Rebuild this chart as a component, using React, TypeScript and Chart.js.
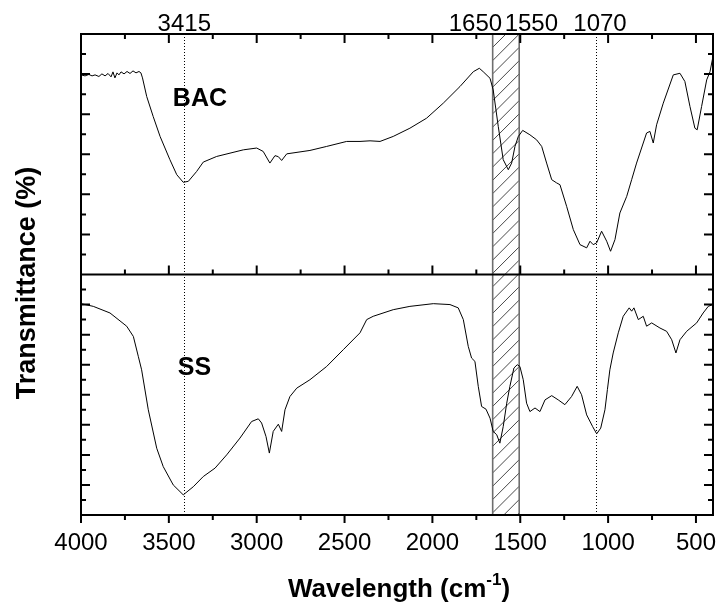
import { useEffect, useRef } from 'react';
import { Chart, registerables } from 'chart.js';

Chart.register(...registerables);

const FONT = '"Liberation Sans", Arial, Helvetica, sans-serif';

// ---------- data ----------
const bacWavenumber = [
  4000, 3977, 3955, 3937, 3920, 3898, 3881, 3863, 3846, 3829, 3818, 3807, 3795, 3784, 3772, 3755, 3738, 3721, 3704, 3687, 3670, 3659, 3650,
  3626, 3589, 3550, 3494, 3455, 3418, 3389, 3342, 3304, 3228, 3076, 3000, 2963, 2925, 2896, 2877, 2858, 2829,
  2697, 2602, 2488, 2412, 2355, 2298, 2223, 2128, 2033, 1938, 1843, 1767, 1733, 1711, 1672, 1654, 1625, 1597, 1568, 1549, 1530, 1511, 1486, 1445, 1407, 1378, 1350, 1321, 1293, 1274,
  1236, 1198, 1160, 1122, 1103, 1085, 1065, 1037, 1008, 986, 961, 933, 894, 866, 838, 781, 762, 743, 724, 686, 629, 591, 563, 534, 506, 493, 468, 439, 420, 405,
];
const bacTransmittance = [
  99.6, 99.1, 99.8, 99.1, 99.6, 98.8, 100.1, 99.1, 100.3, 98.6, 101.1, 98.1, 100.6, 99.6, 101.1, 100.1, 101.3, 100.3, 101.6, 100.6, 101.3, 100.6, 98.1,
  88.8, 78.8, 68.9, 57.3, 49.8, 46.0, 46.5, 51.4, 56.1, 58.9, 62.2, 63.1, 61.4, 55.6, 59.3, 58.8, 56.9, 60.2,
  61.9, 63.9, 66.4, 66.4, 66.7, 66.4, 68.9, 73.0, 78.0, 85.5, 93.8, 101.2, 102.9, 101.2, 97.9, 92.1, 73.8, 57.3, 52.3, 55.6, 63.9, 68.9, 71.9, 69.7, 67.2, 63.9, 55.6, 47.3, 45.7, 44.8,
  34.0, 22.4, 14.9, 13.3, 16.6, 14.9, 15.8, 21.6, 16.6, 11.6, 17.4, 30.7, 39.0, 47.3, 55.6, 70.6, 71.4, 65.6, 74.7, 85.5, 99.6, 100.4, 96.3, 83.8, 73.0, 72.2, 83.8, 97.1, 101.2, 107.9,
];

const ssWavenumber = [
  4000, 3930, 3835, 3740, 3702, 3674, 3655, 3617, 3569, 3532,
  3475, 3418, 3361, 3304, 3237, 3171, 3095, 3029, 2991, 2972,
  2947, 2928, 2906, 2877, 2858, 2839, 2811, 2772, 2697, 2602,
  2507, 2412, 2374, 2337, 2223, 2128, 1995, 1900, 1853, 1824,
  1796, 1777, 1758, 1739, 1720, 1695, 1672, 1654, 1634, 1616,
  1597, 1577, 1559, 1536, 1517, 1502, 1483, 1464, 1445, 1416,
  1388, 1359, 1321, 1284, 1246, 1208, 1176, 1151, 1122, 1088,
  1065, 1042, 1018, 1004, 990, 971, 942, 914, 880, 866,
  853, 828, 800, 781, 752, 705, 667, 638, 614, 591,
  553, 496, 459, 430, 405,
];
const ssTransmittance = [
  70.3, 69.4, 67.2, 62.8, 59.4, 52.8, 48.3, 35.0, 22.2, 16.1,
  10.0, 6.7, 9.4, 12.8, 15.6, 20.0, 25.6, 31.1, 32.0, 30.6,
  26.1, 20.6, 27.8, 30.2, 27.8, 35.0, 39.4, 42.2, 45.0, 49.4,
  55.0, 60.6, 65.0, 66.1, 68.3, 69.4, 70.3, 70.0, 68.9, 65.0,
  56.1, 52.2, 51.1, 42.8, 36.1, 35.2, 32.2, 27.8, 26.7, 23.9,
  29.4, 37.2, 42.8, 48.9, 50.0, 49.4, 45.0, 37.2, 34.4, 35.6,
  34.4, 38.3, 39.7, 38.3, 36.7, 39.4, 42.8, 40.0, 33.3, 29.4,
  27.0, 28.9, 35.0, 41.7, 48.3, 53.9, 60.6, 66.1, 68.9, 67.8,
  68.9, 65.0, 66.1, 62.8, 63.9, 62.2, 61.1, 58.3, 53.9, 58.3,
  61.1, 63.9, 67.2, 69.4, 70.0,
];

const xTickValues = [4000, 3500, 3000, 2500, 2000, 1500, 1000, 500];
const xTickLabels = ['4000', '3500', '3000', '2500', '2000', '1500', '1000', '500'];

const markerLines = [3415, 1070];
const bandRange = [1657, 1506];
const peakLabels = ['3415', '1650', '1550', '1070'];
const peakLabelX = [3412, 1755, 1437, 1046];
const sampleLabels = ['BAC', 'SS'];
const sampleLabelX = [3323, 3354];
const sampleLabelY = [87.6, 49];

// ---------- decorations ----------
const decorPlugin = {
  id: 'decor',
  beforeDatasetsDraw(chart: any) {
    const { ctx, chartArea: a, scales } = chart;
    const xs = scales.x;
    const bx0 = xs.getPixelForValue(bandRange[0]);
    const bx1 = xs.getPixelForValue(bandRange[1]);
    const bw = bx1 - bx0;
    ctx.save();
    ctx.beginPath();
    ctx.rect(bx0, a.top, bw, a.bottom - a.top);
    ctx.clip();
    ctx.strokeStyle = '#333';
    ctx.lineWidth = 0.9;
    for (let y = a.top; y <= a.bottom + bw + 14; y += 13.3) {
      ctx.beginPath();
      ctx.moveTo(bx0, y);
      ctx.lineTo(bx1, y - bw);
      ctx.stroke();
    }
    ctx.restore();

    ctx.save();
    ctx.strokeStyle = '#6e6e6e';
    ctx.lineWidth = 1.6;
    [bx0, bx1].forEach((px) => {
      ctx.beginPath();
      ctx.moveTo(px, a.top);
      ctx.lineTo(px, a.bottom);
      ctx.stroke();
    });
    ctx.strokeStyle = '#000';
    ctx.lineWidth = 1;
    ctx.setLineDash([1, 2]);
    markerLines.forEach((w) => {
      const px = Math.round(xs.getPixelForValue(w)) + 0.5;
      ctx.beginPath();
      ctx.moveTo(px, a.top);
      ctx.lineTo(px, a.bottom);
      ctx.stroke();
    });
    ctx.restore();
  },
  afterDatasetsDraw(chart: any) {
    const { ctx, chartArea: a, scales } = chart;
    const xs = scales.x;
    const yb = scales.yBAC;
    const ys = scales.ySS;
    const mid = yb.getPixelForValue(0);

    ctx.save();
    ctx.strokeStyle = '#000';
    ctx.lineWidth = 2;
    ctx.strokeRect(a.left, a.top, a.right - a.left, a.bottom - a.top);
    ctx.beginPath();
    ctx.moveTo(a.left, mid);
    ctx.lineTo(a.right, mid);
    ctx.stroke();

    // x ticks
    for (let w = 4000; w >= 500; w -= 250) {
      const px = xs.getPixelForValue(w);
      const major = w % 500 === 0;
      const L = major ? 9 : 5;
      ctx.beginPath();
      ctx.moveTo(px, a.top); ctx.lineTo(px, a.top + L);
      ctx.moveTo(px, mid); ctx.lineTo(px, mid - L);
      ctx.moveTo(px, a.bottom); ctx.lineTo(px, a.bottom + (major ? 8 : 5));
      ctx.stroke();
    }
    // y ticks top panel
    for (let v = 10; v < 120; v += 10) {
      const py = yb.getPixelForValue(v);
      const L = v % 20 === 0 ? 9 : 5;
      ctx.beginPath();
      ctx.moveTo(a.left, py); ctx.lineTo(a.left + L, py);
      ctx.moveTo(a.right, py); ctx.lineTo(a.right - L, py);
      ctx.stroke();
    }
    // y ticks bottom panel
    for (let v = 5; v < 80; v += 5) {
      const py = ys.getPixelForValue(v);
      const L = v % 10 === 0 ? 9 : 5;
      ctx.beginPath();
      ctx.moveTo(a.left, py); ctx.lineTo(a.left + L, py);
      ctx.moveTo(a.right, py); ctx.lineTo(a.right - L, py);
      ctx.stroke();
    }

    // texts
    ctx.fillStyle = '#000';
    ctx.textAlign = 'center';
    ctx.textBaseline = 'alphabetic';
    ctx.font = `24px ${FONT}`;
    peakLabels.forEach((t, i) => ctx.fillText(t, xs.getPixelForValue(peakLabelX[i]), a.top - 3));

    ctx.font = `bold 25px ${FONT}`;
    ctx.textBaseline = 'middle';
    const yAxes = [yb, ys];
    sampleLabels.forEach((t, i) =>
      ctx.fillText(t, xs.getPixelForValue(sampleLabelX[i]), yAxes[i].getPixelForValue(sampleLabelY[i]))
    );

    // y title
    ctx.save();
    ctx.translate(35, a.top + 249);
    ctx.rotate(-Math.PI / 2);
    ctx.textBaseline = 'alphabetic';
    ctx.font = `bold 27px ${FONT}`;
    ctx.fillText('Transmittance (%)', 0, 0);
    ctx.restore();

    // x title with superscript
    const main1 = 'Wavelength (cm';
    const sup = '-1';
    const main2 = ')';
    const mainFont = `bold 26px ${FONT}`;
    const supFont = `bold 17px ${FONT}`;
    ctx.textAlign = 'left';
    ctx.textBaseline = 'alphabetic';
    ctx.font = mainFont;
    const w1 = ctx.measureText(main1).width;
    const w3 = ctx.measureText(main2).width;
    ctx.font = supFont;
    const w2 = ctx.measureText(sup).width;
    const cx = 399;
    const base = 596.5;
    let sx = cx - (w1 + w2 + w3) / 2;
    ctx.font = mainFont;
    ctx.fillText(main1, sx, base);
    sx += w1;
    ctx.font = supFont;
    ctx.fillText(sup, sx, base - 12);
    sx += w2;
    ctx.font = mainFont;
    ctx.fillText(main2, sx, base);
    ctx.restore();
  },
};

export default function App() {
  const ref = useRef<HTMLCanvasElement>(null);
  useEffect(() => {
    const chart = new Chart(ref.current as HTMLCanvasElement, {
      type: 'line',
      data: {
        datasets: [
          {
            label: 'BAC',
            data: bacWavenumber.map((x, i) => ({ x, y: bacTransmittance[i] })),
            yAxisID: 'yBAC',
            borderColor: '#000',
            borderWidth: 1,
            pointRadius: 0,
            fill: false,
          },
          {
            label: 'SS',
            data: ssWavenumber.map((x, i) => ({ x, y: ssTransmittance[i] })),
            yAxisID: 'ySS',
            borderColor: '#000',
            borderWidth: 1,
            pointRadius: 0,
            fill: false,
          },
        ],
      },
      options: {
        responsive: false,
        animation: false,
        devicePixelRatio: 1,
        layout: { padding: { left: 81, right: 5, top: 34, bottom: 0 } },
        plugins: { legend: { display: false }, tooltip: { enabled: false } },
        scales: {
          x: {
            type: 'linear',
            reverse: true,
            min: 403,
            max: 4000,
            afterBuildTicks: (s: any) => {
              s.ticks = xTickValues.map((v) => ({ value: v }));
            },
            afterFit: (s: any) => {
              s.height = 89;
              s.paddingLeft = 0;
              s.paddingRight = 0;
            },
            ticks: {
              autoSkip: false,
              maxRotation: 0,
              padding: 14,
              color: '#000',
              font: { family: FONT, size: 24 },
              callback: (_v: any, i: number) => xTickLabels[i],
            },
            grid: { display: false, drawTicks: false },
            border: { display: false },
          },
          yBAC: {
            type: 'linear',
            position: 'left',
            stack: 'panels',
            stackWeight: 1,
            weight: 1,
            min: 0,
            max: 120,
            display: false,
          },
          ySS: {
            type: 'linear',
            position: 'left',
            stack: 'panels',
            stackWeight: 1,
            weight: 0,
            min: 0,
            max: 80,
            display: false,
          },
        },
      } as any,
      plugins: [decorPlugin],
    });
    return () => chart.destroy();
  }, []);
  return (
    <div style={{ position: 'fixed', left: 0, top: 0, width: 718, height: 604, background: '#fff' }}>
      <canvas ref={ref} width={718} height={604} style={{ display: 'block' }} />
    </div>
  );
}
